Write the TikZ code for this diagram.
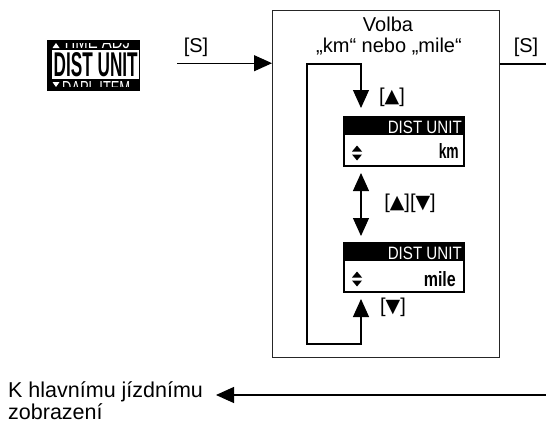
\documentclass[tikz,border=0pt]{standalone}
\usepackage{fontspec}
\setmainfont{Liberation Sans}
\newfontfamily\symfont{DejaVu Sans}
\usepackage{graphicx}
\usetikzlibrary{arrows.meta,calc}
\newcommand\tup{{\symfont\fontsize{19}{21}\selectfont ▲}}
\newcommand\tdn{{\symfont\fontsize{19}{21}\selectfont ▼}}
\begin{document}
\begin{tikzpicture}[x=1pt,y=-1pt,
  every node/.style={inner sep=0pt},
  lbl/.style={font=\fontsize{20}{21}\selectfont},
  lblbig/.style={font=\fontsize{21.5}{22}\selectfont},
  conn/.style={line width=1.1pt, -{Triangle[length=18pt,width=16pt]}},
  conn2/.style={line width=1.1pt, {Triangle[length=18pt,width=16pt]}-{Triangle[length=18pt,width=16pt]}},
  plainline/.style={line width=1.1pt},
  lcdsmall/.style={draw=black, line width=2pt, fill=white, minimum width=120pt, minimum height=49pt, anchor=north west},
  lcdtitle/.style={white, anchor=east},
  updown/.pic={\fill (0,-8) -- (5,-2) -- (-5,-2) -- cycle; \fill (0,7) -- (5,1) -- (-5,1) -- cycle;},
]
\useasboundingbox (0,0) rectangle (546,423);

% main box
\node[draw=black!85, line width=1.2pt, minimum width=227pt, minimum height=347pt, anchor=north west] (main) at (272,10) {};
\node[lbl] (volba) at (388,24) {Volba};
\node[lbl] (choice) at (389,47) {„km“ nebo „mile“};

% left LCD
\node[fill=black, minimum width=93pt, minimum height=51pt, anchor=north west] (lcd0) at (47,40) {};
\fill[white] ($(lcd0.north west)+(5,10)$) rectangle ($(lcd0.south east)+(-1,-12)$);
\node (big) at ($(lcd0.center)+(2,-1)$) {\resizebox{84pt}{24pt}{\bfseries DIST UNIT}};
\begin{scope}
  \clip ($(lcd0.north west)+(0,3.5)$) rectangle ($(lcd0.north east)+(0,9)$);
  \fill[white] (56,43) -- (59.5,48) -- (52.5,48) -- cycle;
  \node[white, anchor=south west] (topstrip) at (62,49) {\resizebox{68pt}{13pt}{TIME ADJ}};
\end{scope}
\begin{scope}
  \clip ($(lcd0.south west)+(0,-11)$) rectangle ($(lcd0.south east)+(0,-4.5)$);
  \fill[white] (52.5,82) -- (59.5,82) -- (56,87) -- cycle;
  \node[white, anchor=north west] (botstrip) at (62,81) {\resizebox{68pt}{13pt}{DAPL ITEM}};
\end{scope}

% left arrow
\coordinate (s1) at ($(lcd0.east)+(37,-2.5)$);
\draw[conn] (s1) -- (s1 -| main.west);
\node[lbl] (s1l) at (196,47) {[S]};

% right exit
\coordinate (s2) at (546,64);
\draw[plainline] (main.east |- s2) -- (s2);
\node[lbl] (s2l) at (526,47) {[S]};

% km LCD
\node[lcdsmall] (lcdkm) at (343,116) {};
\fill (lcdkm.north west) rectangle ($(lcdkm.north east)+(0,19)$);
\node[lcdtitle] (kmtitle) at ($(lcdkm.north east)+(-3,11)$) {\resizebox{74pt}{12.5pt}{DIST UNIT}};
\node[anchor=south east] (kmval) at ($(lcdkm.south east)+(-6,-8)$) {\resizebox{20pt}{15pt}{\bfseries km}};
\pic at ($(lcdkm.west)+(14,12)$) {updown};

% mile LCD
\node[lcdsmall] (lcdmi) at (343,242) {};
\fill (lcdmi.north west) rectangle ($(lcdmi.north east)+(0,19)$);
\node[lcdtitle] (mititle) at ($(lcdmi.north east)+(-3,11)$) {\resizebox{74pt}{12.5pt}{DIST UNIT}};
\node[anchor=south east] (mival) at ($(lcdmi.south east)+(-9,-6)$) {\resizebox{32pt}{15pt}{\bfseries mile}};
\pic at ($(lcdmi.west)+(14,12)$) {updown};

% arrows inside
\coordinate (ax) at (361,0);
\coordinate (lt) at (307,64);
\coordinate (lb) at (307,344);
\draw[conn2] ($(lcdmi.south -| ax)+(0,6)$) |- (lb) -- (lt) -| ($(lcdkm.north -| ax)+(0,-8)$);
\draw[conn2] ($(lcdkm.south -| ax)+(0,6)$) -- ($(lcdmi.north -| ax)+(0,-6)$);
\node[lbl] (l1) at (392,97) {[\tup]};
\node[lbl] (l2) at (410,203) {[\tup][\tdn]};
\node[lbl] (l3) at (393,307) {[\tdn]};

% bottom
\node[lblbig, anchor=north west, align=left] (khl) at (8,381) {K hlavnímu jízdnímu\\zobrazení};
\coordinate (bend) at (546,395);
\coordinate (btip) at (216,395);
\draw[conn] (bend) -- (btip);
\end{tikzpicture}
\end{document}
